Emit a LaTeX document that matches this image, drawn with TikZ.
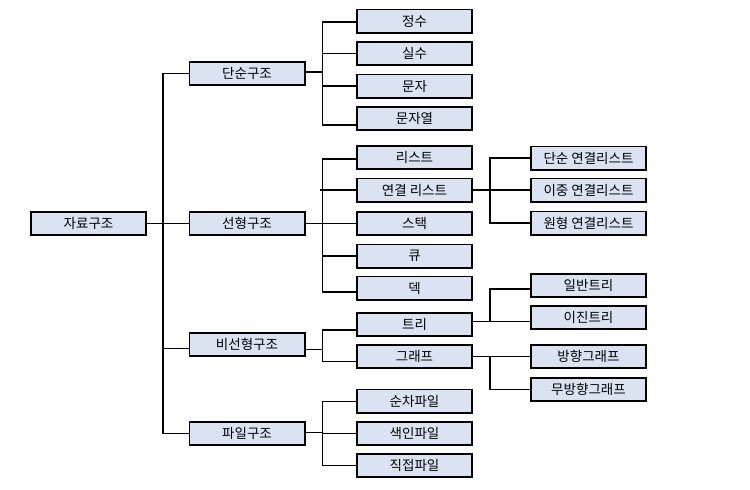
\documentclass[tikz,border=0pt]{standalone}
\usepackage{fontspec}
\newfontfamily\krfont{Noto Sans CJK KR}
\definecolor{boxblue}{RGB}{219,227,242}
\begin{document}
\begin{tikzpicture}[x=1pt,y=-1pt,
  box/.style={draw=black,line width=1.6pt,fill=boxblue,minimum width=115.4pt,minimum height=23.4pt,inner sep=0pt,font=\krfont\fontsize{13.5}{15}\selectfont},
  conn/.style={line width=1.3pt,black}]
\useasboundingbox (0,0) rectangle (750,490);
% root
\node[box] (root) at (88.5,223.5) {자료구조};
% level 1
\node[box] (dan) at (247,73.5) {단순구조};
\node[box] (sun) at (247,223.5) {선형구조};
\node[box] (bi) at (247,344.5) {비선형구조};
\node[box] (pa) at (247,433.5) {파일구조};
% level 2
\node[box] (jeong) at (414.5,21) {정수};
\node[box] (sil) at (414.5,53.5) {실수};
\node[box] (mun) at (414.5,86) {문자};
\node[box] (munyeol) at (414.5,118.5) {문자열};
\node[box] (list) at (414.5,157.5) {리스트};
\node[box] (ll) at (414.5,190) {연결 리스트};
\node[box] (stack) at (414.5,223.5) {스택};
\node[box] (queue) at (414.5,256) {큐};
\node[box] (deque) at (414.5,288) {덱};
\node[box] (tree) at (414.5,324.5) {트리};
\node[box] (graph) at (414.5,356.5) {그래프};
\node[box] (seq) at (414.5,401) {순차파일};
\node[box] (idx) at (414.5,433.5) {색인파일};
\node[box] (dir) at (414.5,465.5) {직접파일};
% level 3
\node[box] (sll) at (588.5,158) {단순 연결리스트};
\node[box] (dll) at (588.5,190) {이중 연결리스트};
\node[box] (cll) at (588.5,223) {원형 연결리스트};
\node[box] (gen) at (588.5,285.5) {일반트리};
\node[box] (bin) at (588.5,317.5) {이진트리};
\node[box] (dg) at (588.5,356.5) {방향그래프};
\node[box] (ug) at (588.5,389.5) {무방향그래프};
% connectors: root
\draw[conn] (root.east) -- ++(16,0) |- (dan.west);
\draw[conn] (root.east) -- ++(16,0) |- (pa.west);
\draw[conn] (root.east) -- (sun.west);
\draw[conn] (root.east) -- ++(16,0) |- ([yshift=-4pt]bi.west);
% 단순구조
\draw[conn] ([yshift=1.5pt]dan.east) -- ++(17,0) |- ([yshift=-1pt]jeong.west);
\draw[conn] ([yshift=1.5pt]dan.east) -- ++(17,0) |- (sil.west);
\draw[conn] ([yshift=1.5pt]dan.east) -- ++(17,0) |- (mun.west);
\draw[conn] ([yshift=1.5pt]dan.east) -- ++(17,0) |- ([yshift=-6.5pt]munyeol.west);
% 선형구조
\draw[conn] (sun.east) -- ++(17,0) |- ([yshift=-1.5pt]list.west);
\draw[conn] (sun.east) -- ++(17,0) |- (ll.west);
\draw[conn] ([xshift=-3pt]ll.west -| sun.east) ++(17,0) -- (ll.west);
\draw[conn] (sun.east) -- (stack.west);
\draw[conn] (sun.east) -- ++(17,0) |- (queue.west);
\draw[conn] (sun.east) -- ++(17,0) |- ([yshift=-4pt]deque.west);
% 비선형구조
\draw[conn] ([yshift=-5pt]bi.east) -- ++(17,0) |- ([yshift=-5.5pt]tree.west);
\draw[conn] ([yshift=-5pt]bi.east) -- ++(17,0) |- ([yshift=-5.2pt]graph.west);
% 파일구조
\draw[conn] ([yshift=1pt]pa.east) -- ++(17,0) |- ([yshift=-0.7pt]seq.west);
\draw[conn] ([yshift=1pt]pa.east) -- ++(17,0) |- (idx.west);
\draw[conn] ([yshift=1pt]pa.east) -- ++(17,0) |- (dir.west);
% 연결 리스트
\draw[conn] (ll.east) -- ++(17,0) |- (sll.west);
\draw[conn] (ll.east) -- (dll.west);
\draw[conn] (ll.east) -- ++(17,0) |- (cll.west);
% 트리
\draw[conn] ([yshift=2.8pt]tree.east) -- ++(17,0) |- ([yshift=-3.5pt]gen.west);
\draw[conn] ([yshift=2.8pt]tree.east) -- ++(17,0) |- ([yshift=-4.2pt]bin.west);
% 그래프
\draw[conn] (graph.east) -- ++(17,0) |- (dg.west);
\draw[conn] (graph.east) -- ++(17,0) |- (ug.west);
\end{tikzpicture}
\end{document}
